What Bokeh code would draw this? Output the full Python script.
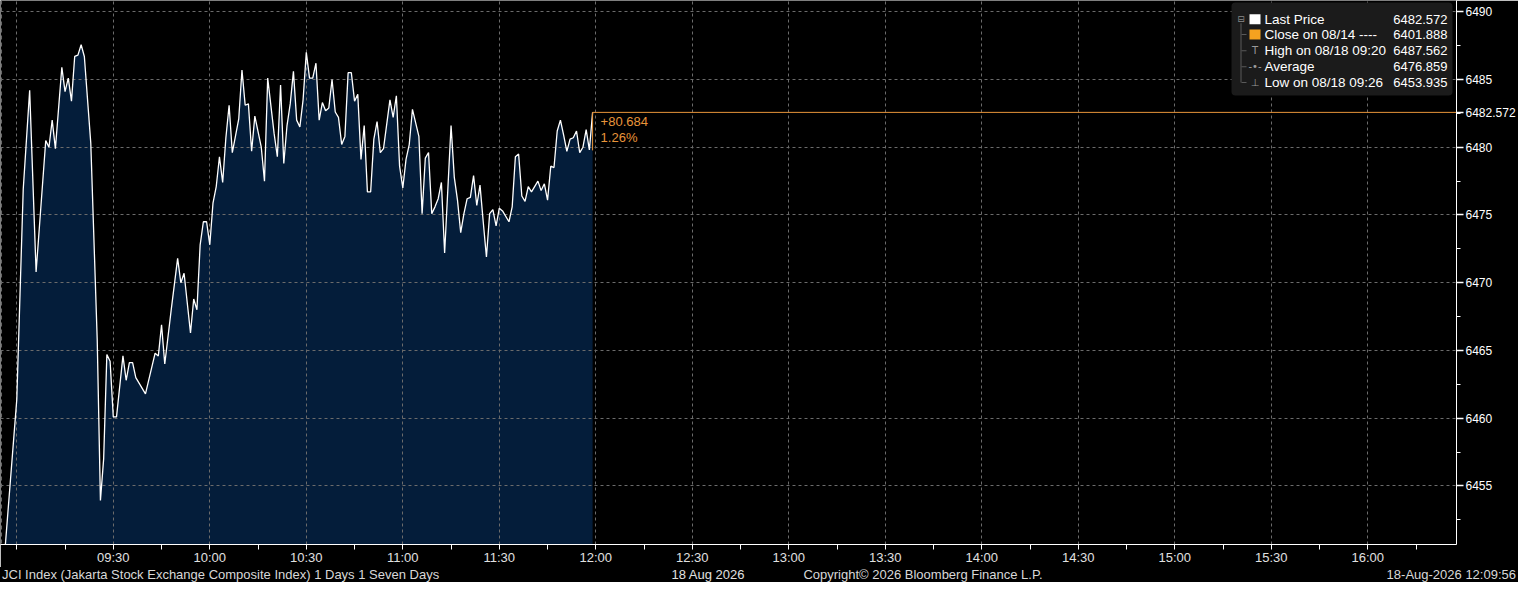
from math import pi

import pandas as pd
from bokeh.plotting import figure
from bokeh.layouts import column
from bokeh.models import (ColumnDataSource, Range1d, FixedTicker, Label, Span, Div,
                          BoxAnnotation, CustomJSTickFormatter)
from bokeh.embed import file_html
from bokeh.resources import INLINE

DAY = "2026-08-18"

# 1-minute bars of the JCI index (vertices of the line)
times = [
    "08:55", "09:00", "09:02", "09:04", "09:06",
    "09:09", "09:10", "09:11", "09:12", "09:14",
    "09:15", "09:16", "09:17", "09:18", "09:19",
    "09:20", "09:21", "09:23", "09:25", "09:26",
    "09:27", "09:28", "09:29", "09:30", "09:31",
    "09:33", "09:34", "09:35", "09:36", "09:37",
    "09:40", "09:43", "09:44", "09:45", "09:46",
    "09:48", "09:50", "09:51", "09:52", "09:54",
    "09:55", "09:56", "09:57", "09:58", "09:59",
    "10:00", "10:01", "10:02", "10:03", "10:04",
    "10:05", "10:06", "10:07", "10:09", "10:10",
    "10:11", "10:12", "10:13", "10:14", "10:16",
    "10:17", "10:18", "10:20", "10:21", "10:22",
    "10:23", "10:24", "10:25", "10:26", "10:27",
    "10:28", "10:29", "10:30", "10:31", "10:32",
    "10:33", "10:34", "10:35", "10:36", "10:37",
    "10:38", "10:39", "10:40", "10:41", "10:42",
    "10:43", "10:44", "10:45", "10:46", "10:47",
    "10:48", "10:49", "10:50", "10:51", "10:52",
    "10:53", "10:54", "10:56", "10:57", "10:58",
    "10:59", "11:00", "11:01", "11:02", "11:03",
    "11:05", "11:06", "11:07", "11:08", "11:09",
    "11:10", "11:11", "11:12", "11:13", "11:15",
    "11:16", "11:17", "11:18", "11:19", "11:20",
    "11:21", "11:22", "11:23", "11:24", "11:25",
    "11:26", "11:27", "11:28", "11:29", "11:30",
    "11:31", "11:33", "11:34", "11:35", "11:36",
    "11:37", "11:38", "11:39", "11:40", "11:42",
    "11:43", "11:44", "11:45", "11:46", "11:47",
    "11:48", "11:49", "11:50", "11:51", "11:52",
    "11:53", "11:54", "11:55", "11:56", "11:57",
    "11:58", "11:59",
]
prices = [
    6446.3, 6461.4, 6476.9, 6484.2, 6470.8,
    6480.5, 6480.0, 6482.0, 6479.9, 6485.9,
    6484.1, 6485.1, 6483.4, 6486.7, 6486.8,
    6487.562, 6486.7, 6480.3, 6465.8, 6453.935,
    6457.0, 6464.7, 6464.2, 6460.1, 6460.1,
    6464.6, 6462.8, 6464.1, 6464.1, 6463.0,
    6461.8, 6464.8, 6464.6, 6466.9, 6464.0,
    6468.0, 6471.8, 6470.0, 6470.7, 6466.3,
    6468.8, 6468.0, 6472.8, 6474.5, 6474.5,
    6472.8, 6475.9, 6477.1, 6479.3, 6477.4,
    6480.7, 6483.1, 6479.6, 6482.1, 6485.7,
    6483.1, 6483.2, 6479.7, 6482.3, 6480.0,
    6477.5, 6485.1, 6481.0, 6479.3, 6484.6,
    6478.8, 6481.6, 6483.2, 6485.6, 6482.0,
    6481.5, 6483.5, 6487.0, 6485.1, 6485.1,
    6486.2, 6482.0, 6483.3, 6482.7, 6482.9,
    6485.0, 6482.6, 6482.2, 6480.2, 6480.8,
    6485.5, 6485.5, 6483.4, 6483.9, 6479.1,
    6481.6, 6476.7, 6476.7, 6480.6, 6481.9,
    6479.6, 6479.9, 6483.5, 6482.2, 6483.8,
    6478.6, 6477.0, 6479.1, 6480.2, 6482.8,
    6480.8, 6475.1, 6479.2, 6479.6, 6475.1,
    6475.6, 6476.2, 6477.4, 6472.2, 6481.6,
    6477.8, 6476.1, 6473.7, 6475.1, 6476.2,
    6476.3, 6477.9, 6475.7, 6477.2, 6474.5,
    6471.9, 6475.1, 6475.4, 6474.2, 6475.5,
    6475.3, 6474.5, 6475.6, 6479.3, 6479.5,
    6476.4, 6476.0, 6477.1, 6476.7, 6477.5,
    6476.8, 6477.3, 6476.1, 6478.6, 6478.5,
    6481.2, 6482.0, 6480.9, 6479.7, 6480.6,
    6480.7, 6481.2, 6479.6, 6480.0, 6481.3,
    6479.8, 6482.572,
]

prev_close = 6401.888
prev_close_day = "08/14"
high, high_at = 6487.562, "08/18 09:20"
low, low_at = 6453.935, "08/18 09:26"
average = 6476.859

x_ticks = ["09:00", "09:30", "10:00", "10:30", "11:00", "11:30", "12:00", "12:30",
           "13:00", "13:30", "14:00", "14:30", "15:00", "15:30", "16:00"]
x_minor = ["09:15", "09:45", "10:15", "10:45", "11:15", "11:45", "12:15", "12:45",
           "13:15", "13:45", "14:15", "14:45", "15:15", "15:45", "16:15"]
y_ticks = [6455, 6460, 6465, 6470, 6475, 6480, 6485, 6490]
y_minor = [6452.5, 6457.5, 6462.5, 6467.5, 6472.5, 6477.5, 6482.5, 6487.5]

FONT = "Liberation Sans"
SYM = "DejaVu Sans"
ORANGE = "#e8953a"
GRID = "#6b6b6b"


def ts(hhmm):
    return pd.Timestamp(f"{DAY} {hhmm}")


def ms(hhmm):
    return ts(hhmm).value // 10**6


W = 1518
FW, FH = 1456, 546
MAIN_H, FOOT_H = 567, 15

src = ColumnDataSource(dict(
    t=[ts(x) for x in times],
    price=prices,
    base=[prev_close] * len(prices),
))

p = figure(width=W, height=MAIN_H, x_axis_type="datetime", y_axis_location="right",
           x_range=Range1d(ts("08:54:56"), ts("16:27:34")),
           y_range=Range1d(6450.68, 6490.83),
           output_backend="svg", toolbar_location=None, tools="",
           min_border_left=0, min_border_top=0, min_border_right=W - FW,
           min_border_bottom=MAIN_H - FH,
           background_fill_color="black", border_fill_color="black")
p.outline_line_color = None

last_t, last = ts(times[-1]), prices[-1]

# axes
p.xaxis.ticker = FixedTicker(ticks=[ms(t) for t in x_ticks],
                             minor_ticks=[ms(t) for t in x_minor])
p.xaxis.formatter = CustomJSTickFormatter(code="""
    const d = new Date(tick);
    const h = d.getUTCHours(), m = d.getUTCMinutes();
    if (h == 9 && m == 0) return "";
    return String(h).padStart(2, "0") + ":" + String(m).padStart(2, "0");
""")
# the last price gets its own tick on the price axis
p.yaxis.ticker = FixedTicker(ticks=y_ticks + [last], minor_ticks=y_minor)
p.yaxis.formatter = CustomJSTickFormatter(code="""
    return Number.isInteger(tick) ? String(tick) : tick.toFixed(3);
""")

for ax in (p.xaxis, p.yaxis):
    ax.axis_line_color = "white"
    ax.major_tick_line_color = "white"
    ax.minor_tick_line_color = "white"
    ax.major_tick_in = 0
    ax.minor_tick_in = 0
    ax.major_label_text_font = FONT

p.xaxis.major_label_text_font_size = "13px"
p.xaxis.major_tick_out = 5
p.xaxis.minor_tick_out = 5
p.xaxis.major_label_standoff = 0
p.xaxis.major_label_text_color = "#e0e0e0"
p.yaxis.major_label_text_font_size = "12px"
p.yaxis.major_tick_out = 7
p.yaxis.major_tick_line_width = 1.5
p.yaxis.minor_tick_out = 4
p.yaxis.major_label_standoff = 2
p.yaxis.major_label_text_color = "white"

for g in (p.xgrid, p.ygrid):
    g.grid_line_color = GRID
    g.grid_line_dash = "3 3"
p.ygrid.ticker = FixedTicker(ticks=y_ticks)

# session start marker
p.add_layout(Span(location=ms("08:55:15"), dimension="height", line_color=GRID,
                  line_dash="4 3"))

# area + line
p.varea(x="t", y1="base", y2="price", source=src, fill_color="#041d3a", level="image")
p.line(x="t", y="price", source=src, line_color="white", line_width=1.3)

# last price marker
p.ray(x=[last_t], y=[last], length=0, angle=0, line_color=ORANGE, line_width=1)
p.ray(x=[last_t], y=[last], length=38, length_units="screen", angle=-pi / 2,
      line_color=ORANGE, line_width=1)

chg = last - prev_close
pct = chg / prev_close * 100
for txt, dy in ((f"+{chg:.3f}", -9), (f"{pct:.2f}%", -25)):
    p.add_layout(Label(x=ms(times[-1]), y=last, x_offset=8, y_offset=dy, text=txt,
                       text_color=ORANGE, text_font=FONT, text_font_size="13px",
                       text_baseline="middle"))

# legend panel
LX = 1231
p.add_layout(BoxAnnotation(left=LX, right=FW - 4, top=FH - 4, bottom=FH - 97,
                           left_units="screen", right_units="screen",
                           top_units="screen", bottom_units="screen",
                           fill_color="#1b1b1b", fill_alpha=1, line_color=None,
                           border_radius=4))

rows = [FH - 20.7, FH - 36, FH - 52.3, FH - 68.3, FH - 84]
legend = [
    ("Last Price", last, "white"),
    (f"Close on {prev_close_day} ----", prev_close, "#f5a21f"),
    (f"High on {high_at}", high, "T"),
    ("Average", average, "-\u2022-"),
    (f"Low on {low_at}", low, "\u22A5"),
]


def box(l, r, b, t, color):
    p.add_layout(BoxAnnotation(left=l, right=r, bottom=b, top=t,
                               left_units="screen", right_units="screen",
                               top_units="screen", bottom_units="screen",
                               fill_color=color, fill_alpha=1, line_color=None))


box(LX + 9, LX + 10, rows[-1], rows[0] - 4, "#5a5a5a")
for ry in rows[1:]:
    box(LX + 10, LX + 15, ry - 0.5, ry + 0.5, "#5a5a5a")
p.add_layout(Label(x=LX + 9.5, x_units="screen", y=rows[0], y_units="screen",
                   text="\u229F", text_color="#8a8a8a", text_font=SYM,
                   text_font_size="9px", text_align="center", text_baseline="middle"))

for ry, (name, val, icon) in zip(rows, legend):
    if icon.startswith("#") or icon == "white":
        box(LX + 18, LX + 29, ry - 5, ry + 5, icon)
    else:
        p.add_layout(Label(x=LX + 23.5, x_units="screen", y=ry, y_units="screen",
                           text=icon, text_color="#9a9a9a", text_font=SYM,
                           text_font_size="10px", text_align="center",
                           text_baseline="middle"))
    p.add_layout(Label(x=LX + 33, x_units="screen", y=ry, y_units="screen", text=name,
                       text_color="white", text_font=FONT, text_font_size="13.5px",
                       text_baseline="middle"))
    p.add_layout(Label(x=FW - 9, x_units="screen", y=ry, y_units="screen",
                       text=f"{val:.3f}", text_color="white", text_font=FONT,
                       text_font_size="13px", text_align="right",
                       text_baseline="middle"))

# footer strip: date under the time axis and the source lines
footer = [
    ("18 Aug 2026", 708, "center", "#e0e0e0"),
    ("JCI Index (Jakarta Stock Exchange Composite Index) 1 Days 1 Seven Days", 2,
     "left", "#d8d8d8"),
    ("Copyright\u00a9 2026 Bloomberg Finance L.P.", 923, "center", "#d8d8d8"),
    ("18-Aug-2026 12:09:56", W - 2, "right", "#d8d8d8"),
]
shift = {"left": "0", "center": "-50%", "right": "-100%"}
spans = "".join(
    f'<span style="position:absolute;left:{fx}px;top:0;white-space:nowrap;'
    f'transform:translateX({shift[al]});color:{col}">{txt}</span>'
    for txt, fx, al, col in footer
)
foot = Div(
    text=(f'<div style="position:relative;width:{W}px;height:{FOOT_H}px;'
          f'background:black;font-family:\'{FONT}\';font-size:13px;'
          f'line-height:{FOOT_H}px;overflow:hidden">{spans}</div>'),
    width=W, height=FOOT_H, margin=0, styles={"background-color": "black"},
)

open("out.html", "w").write(file_html(column(p, foot), INLINE))
